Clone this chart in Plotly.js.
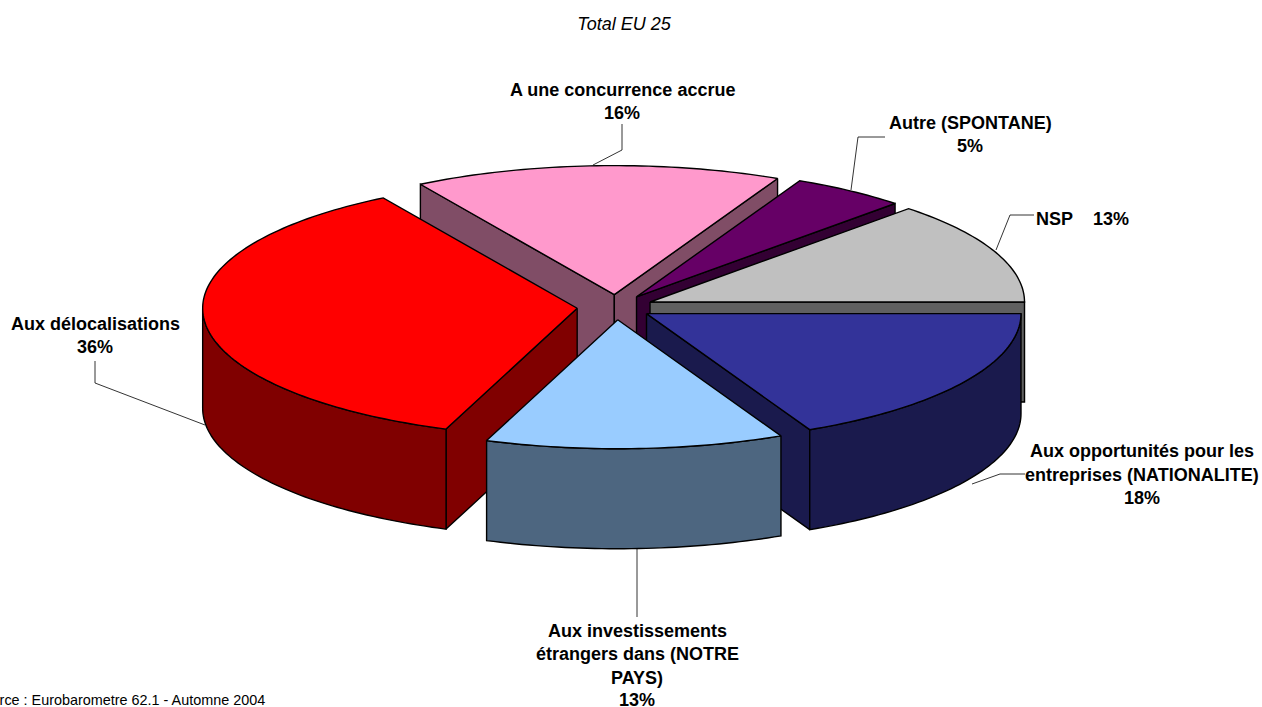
<!DOCTYPE html>
<html><head><meta charset="utf-8">
<script src="https://cdn.plot.ly/plotly-3.0.1.min.js"></script>
<style>html,body{margin:0;padding:0;background:#fff;overflow:hidden}#c{width:1262px;height:707px}</style>
</head><body><div id="c"></div>
<script>
// Data, clockwise from the east edge of the pie
const categories = ["Aux opportunités pour les entreprises (NATIONALITE)", "Aux investissements étrangers dans (NOTRE PAYS)", "Aux délocalisations", "A une concurrence accrue", "Autre (SPONTANE)", "NSP"];
const values = [18, 13, 36, 16, 5, 13];
const topColors = ["#333399", "#99CCFF", "#FF0000", "#FF99CC", "#660066", "#C0C0C0"];
const sideColors = ["#1A1A4D", "#4D6680", "#800000", "#804D66", "#330033", "#606060"];
const explode = [36, 37, 39, 36, 36, 37];
const drawOrder = [3, 4, 5, 0, 2, 1];
const labelLines = [
  ["Aux opportunités pour les", 1142, 451], ["entreprises (NATIONALITE)", 1142, 475], ["18%", 1142, 498],
  ["Aux investissements", 637, 631], ["étrangers dans (NOTRE", 637, 654], ["PAYS)", 637, 678], ["13%", 637, 699.5],
  ["Aux délocalisations", 95, 324], ["36%", 95, 347],
  ["A une concurrence accrue", 622, 90], ["16%", 622, 113],
  ["Autre (SPONTANE)", 970, 123], ["5%", 970, 146],
  ["NSP    13%", 1082, 219]
];
const leaders = [
  [[972, 1000, 1025], [484, 474, 474]],
  [[637, 637], [549, 617]],
  [[205, 95, 95], [425, 383, 361]],
  [[593, 622, 622], [165, 150, 124]],
  [[851, 858, 885], [190, 137, 137]],
  [[996, 1010, 1034], [250, 215, 215]]
];

// Pie projection
const CX = 616, CY = 307, RX = 374.5, RY = 129, DEPTH = 100;
const total = values.reduce((a, b) => a + b, 0);
let acc = 0;
const wedges = values.map((v, i) => {
  const a0 = acc / total * 2 * Math.PI; acc += v;
  const a1 = acc / total * 2 * Math.PI, mid = (a0 + a1) / 2;
  return {i, a0, a1, ax: CX + explode[i] * Math.cos(mid), ay: CY + explode[i] * RY / RX * Math.sin(mid)};
});
function pt(w, a, d) { return [w.ax + RX * Math.cos(a), w.ay + RY * Math.sin(a) + d]; }
function arc(w, a, b, d) {
  const n = Math.max(2, Math.ceil(Math.abs(b - a) / 0.02)), o = [];
  for (let k = 0; k <= n; k++) o.push(pt(w, a + (b - a) * k / n, d));
  return o;
}
const traces = [];
function poly(pts, color, name) {
  const x = pts.map(p => p[0]).concat(pts[0][0]), y = pts.map(p => p[1]).concat(pts[0][1]);
  traces.push({type: "scatter", mode: "lines", x, y, fill: "toself", fillcolor: color, name,
    line: {color: "#000", width: 1.4, simplify: false}, hoverinfo: "name", showlegend: false});
}
drawOrder.forEach(i => {
  const w = wedges[i], name = categories[i];
  // radial walls that face the viewer
  [[w.a0, -Math.cos(w.a0) > 1e-6], [w.a1, Math.cos(w.a1) > 1e-6]].forEach(([a, vis]) => {
    if (!vis) return;
    const e = pt(w, a, 0), f = pt(w, a, DEPTH);
    poly([[w.ax, w.ay], e, f, [w.ax, w.ay + DEPTH]], sideColors[i], name);
  });
  // outer wall, front half of the rim only
  const lo = w.a0, hi = Math.min(w.a1, Math.PI);
  if (lo < Math.PI) poly(arc(w, lo, hi, 0).concat(arc(w, hi, lo, DEPTH)), sideColors[i], name);
  // top face
  poly([[w.ax, w.ay]].concat(arc(w, w.a0, w.a1, 0)), topColors[i], name);
});
leaders.forEach(l => traces.push({type: "scatter", mode: "lines", x: l[0], y: l[1], hoverinfo: "skip", showlegend: false,
  line: {color: "#000", width: 0.8}}));

const font = {family: "Liberation Sans, Arial, sans-serif", size: 18, color: "#000"};
const annotations = labelLines.map(l => ({xref: "x", yref: "y", x: l[1], y: l[2], text: "<b>" + l[0].replace(/ {2,}/g, s => "\u00a0".repeat(s.length)) + "</b>",
  showarrow: false, xanchor: "center", yanchor: "middle", font}));
annotations.push({xref: "x", yref: "y", x: 267, y: 700, text: "Source : Eurobarometre 62.1 - Automne 2004", showarrow: false,
  xanchor: "right", yanchor: "middle", font: {family: font.family, size: 14.4, color: "#000"}});

const hidden = {visible: false, fixedrange: true};
Plotly.newPlot("c", traces, {
  width: 1262, height: 707, margin: {l: 0, r: 0, t: 0, b: 0},
  paper_bgcolor: "#fff", plot_bgcolor: "#fff", showlegend: false,
  title: {text: "Total EU 25", x: 624 / 1262, xanchor: "center", y: 1 - 24 / 707, yanchor: "middle",
    font: {family: font.family, size: 18, style: "italic", color: "#000"}},
  xaxis: Object.assign({range: [0, 1262]}, hidden),
  yaxis: Object.assign({range: [707, 0]}, hidden),
  annotations
}, {displayModeBar: false, staticPlot: true});
</script></body></html>
